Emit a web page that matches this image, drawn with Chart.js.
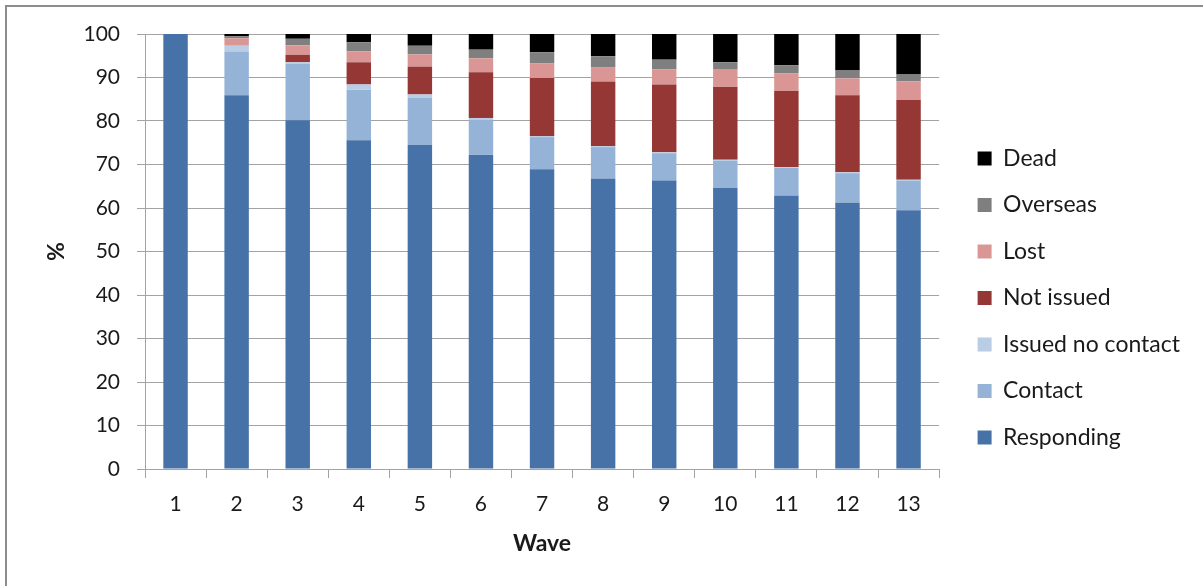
<!DOCTYPE html>
<html>
<head>
<meta charset="utf-8">
<title>Sample status by wave</title>
<script src="https://cdn.jsdelivr.net/npm/chart.js@4/dist/chart.umd.min.js"></script>
<style>
  html, body { margin: 0; padding: 0; background: #ffffff; }
  #wrap { position: relative; width: 1203px; height: 586px; }
  canvas { display: block; }
</style>
</head>
<body>
<div id="wrap"><canvas id="chart" width="1203" height="586"></canvas></div>
<script>
// Survey waves (x categories)
const waves = ['1', '2', '3', '4', '5', '6', '7', '8', '9', '10', '11', '12', '13'];

// Share of the original sample (%) in each status, per wave
const responding      = [100, 85.9, 80.2, 75.6, 74.5, 72.2, 68.9, 66.8, 66.3, 64.6, 62.9, 61.2, 59.5];
const contact         = [0,   10.0, 12.9, 11.6, 10.9,  8.0,  7.4,  7.2,  6.3,  6.3,  6.3,  6.8,  6.8];
const issuedNoContact = [0,    1.4,  0.4,  1.2,  0.7,  0.5,  0.2,  0.2,  0.2,  0.2,  0.2,  0.2,  0.2];
const notIssued       = [0,    0,    1.7,  5.1,  6.4, 10.5, 13.4, 14.9, 15.6, 16.8, 17.5, 17.7, 18.3];
const lost            = [0,    1.7,  2.2,  2.5,  2.8,  3.2,  3.4,  3.3,  3.5,  3.9,  4.1,  3.9,  4.3];
const overseas        = [0,    0.5,  1.5,  2.1,  2.0,  2.0,  2.5,  2.5,  2.2,  1.7,  1.8,  1.8,  1.6];
const dead            = [0,    0.5,  1.1,  1.9,  2.7,  3.6,  4.2,  5.1,  5.9,  6.5,  7.2,  8.4,  9.3];

// Y axis ticks
const yTicks = [0, 10, 20, 30, 40, 50, 60, 70, 80, 90, 100];

const FONT = 'Lato, "Open Sans", "DejaVu Sans", sans-serif';
const TEXT = '#1a1a1a';
const GRID = '#a3a3a3';

const series = [
  { label: 'Responding',        data: responding,      color: '#4672a8' },
  { label: 'Contact',           data: contact,         color: '#95b3d7' },
  { label: 'Issued no contact', data: issuedNoContact, color: '#b9cde5' },
  { label: 'Not issued',        data: notIssued,       color: '#953735' },
  { label: 'Lost',              data: lost,            color: '#d99694' },
  { label: 'Overseas',          data: overseas,        color: '#7f7f7f' },
  { label: 'Dead',              data: dead,            color: '#000000' }
];

// Grey frame lines along the top and left edges
const frame = {
  id: 'frame',
  afterDraw(chart) {
    const c = chart.ctx;
    c.save();
    c.strokeStyle = '#8c8c8c';
    c.lineWidth = 2;
    c.beginPath();
    c.moveTo(6, chart.height);
    c.lineTo(6, 6);
    c.lineTo(chart.width, 6);
    c.stroke();
    c.restore();
  }
};

function draw() {
  new Chart(document.getElementById('chart'), {
    type: 'bar',
    data: {
      labels: waves,
      datasets: series.map(s => ({
        label: s.label,
        data: s.data,
        xAxisID: 'x',
        yAxisID: 'y',
        backgroundColor: s.color,
        borderWidth: 0,
        categoryPercentage: 1.0,
        barPercentage: 0.4
      }))
    },
    options: {
      responsive: false,
      animation: false,
      devicePixelRatio: 1,
      layout: { padding: { top: 34, right: 13, bottom: 24, left: 0 } },
      plugins: {
        tooltip: { enabled: false },
        legend: {
          position: 'right',
          reverse: true,
          align: 'center',
          maxWidth: 320,
          labels: {
            boxWidth: 14,
            boxHeight: 14,
            padding: 23.5,
            color: TEXT,
            font: { family: FONT, size: 23 }
          }
        }
      },
      scales: {
        x: {
          stacked: true,
          offset: true,
          grid: {
            display: true,
            offset: true,
            drawOnChartArea: false,
            drawTicks: true,
            tickLength: 9,
            tickColor: GRID,
            color: GRID
          },
          border: { display: true, color: GRID, width: 1 },
          ticks: { color: TEXT, font: { family: FONT, size: 21 }, padding: 14, maxRotation: 0 },
          title: {
            display: true,
            text: 'Wave',
            color: TEXT,
            font: { family: FONT, size: 23, weight: 'bold' },
            padding: { top: 0, bottom: 5 }
          },
          afterFit(scale) { scale.height = 93; }
        },
        y: {
          stacked: true,
          min: 0,
          max: 100,
          afterBuildTicks(scale) { scale.ticks = yTicks.map(v => ({ value: v })); },
          grid: {
            color: GRID,
            drawTicks: true,
            tickLength: 8,
            tickColor: GRID
          },
          border: { display: true, color: GRID, width: 1 },
          ticks: { color: TEXT, font: { family: FONT, size: 21 }, padding: 17 },
          title: {
            display: true,
            text: '%',
            color: TEXT,
            font: { family: FONT, size: 23, weight: 'bold' },
            padding: { top: 43, bottom: 0 }
          },
          afterFit(scale) { scale.width = 145; }
        },
        gap: {
          type: 'linear',
          position: 'right',
          display: true,
          grid: { display: false },
          ticks: { display: false },
          border: { display: false },
          afterFit(scale) { scale.width = 15; }
        }
      }
    },
    plugins: [frame]
  });
}

// Make sure the label font is ready before the legend measures its text
Promise.all([
  document.fonts.load('23px Lato'),
  document.fonts.load('bold 23px Lato'),
  document.fonts.load('21px Lato')
]).then(draw, draw);
</script>
</body>
</html>
